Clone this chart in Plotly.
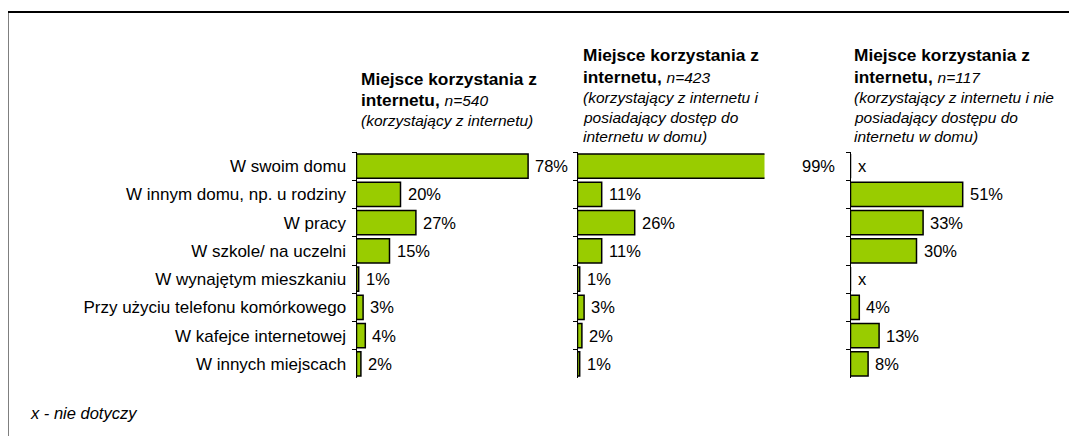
import plotly.graph_objects as go

OFF = 8  # browser body margin
W, H = 1077 - OFF, 436 - OFF

categories = [
    "W swoim domu",
    "W innym domu, np. u rodziny",
    "W pracy",
    "W szkole/ na uczelni",
    "W wynajętym mieszkaniu",
    "Przy użyciu telefonu komórkowego",
    "W kafejce internetowej",
    "W innych miejscach",
]
values_all = [78, 20, 27, 15, 1, 3, 4, 2]
values_home = [99, 11, 26, 11, 1, 3, 2, 1]
values_nohome = [None, 51, 33, 30, None, 4, 13, 8]

IT = "<i><span style='font-size:15.5px'>{}</span></i>"
titles = [
    ["<b>Miejsce korzystania z</b>",
     "<b>internetu,</b> " + IT.format("n=540"),
     IT.format("(korzystający z internetu)")],
    ["<b>Miejsce korzystania z</b>",
     "<b>internetu,</b> " + IT.format("n=423"),
     IT.format("(korzystający z internetu i"),
     IT.format("posiadający dostęp do"),
     IT.format("internetu w domu)")],
    ["<b>Miejsce korzystania z</b>",
     "<b>internetu,</b> " + IT.format("n=117"),
     IT.format("(korzystający z internetu i nie"),
     IT.format("posiadający dostępu do"),
     IT.format("internetu w domu)")],
]
footnote = "x - nie dotyczy"
na_label = "x"

FONT = "Liberation Sans, Arial, sans-serif"
GREEN = "#99CC00"

def px_x(p):
    return (p - OFF) / W

def px_y(p):
    return 1 - (p - OFF) / H

SCALE = 2.2  # pixels per percent
XMAX = 85
LABEL_MAX = 100
panel_left = [356.5, 577.5, 850.5]
title_x = [359, 580.5, 852]
title_y = [[79, 100, 121], [55, 77, 98, 118, 137], [55, 77, 98, 118, 137]]
y_dom = [px_y(378), px_y(152)]

series = [values_all, values_home, values_nohome]

fig = go.Figure()
annotations = []
for i, vals in enumerate(series):
    n = i + 1
    xa = "x" if n == 1 else f"x{n}"
    ya = "y" if n == 1 else f"y{n}"
    la = f"x{n + 3}"  # invisible label axis with the same scale but longer range
    fig.add_trace(go.Bar(
        x=[v if v is not None else 0 for v in vals],
        y=categories,
        orientation="h",
        marker=dict(color=GREEN, line=dict(color="black", width=1.5)),
        xaxis=xa, yaxis=ya,
        showlegend=False,
        hoverinfo="skip",
    ))
    for c, v in zip(categories, vals):
        annotations.append(dict(
            x=v if v is not None else 0, y=c, xref=la, yref=ya,
            text=f"{v}%" if v is not None else na_label,
            xanchor="left", yanchor="middle", xshift=5,
            showarrow=False,
            font=dict(family=FONT, size=16.5, color="black"),
        ))
    left = panel_left[i]
    fig.layout[f"xaxis{'' if n == 1 else n}"] = dict(
        domain=[px_x(left), px_x(left + XMAX * SCALE)], range=[0, XMAX],
        visible=False, anchor=ya, fixedrange=True,
    )
    fig.layout[f"xaxis{n + 3}"] = dict(
        domain=[px_x(left), px_x(left + LABEL_MAX * SCALE)],
        range=[0, LABEL_MAX],
        visible=False, anchor=ya, fixedrange=True,
    )
    fig.layout[f"yaxis{'' if n == 1 else n}"] = dict(
        domain=y_dom, anchor=xa, type="category",
        categoryorder="array", categoryarray=categories,
        autorange="reversed",
        showline=True, linecolor="black", linewidth=1,
        ticks="outside", tickson="boundaries", ticklen=4, tickcolor="black",
        showticklabels=(n == 1), showgrid=False, zeroline=False,
        tickfont=dict(family=FONT, size=17, color="black"),
        ticklabelstandoff=6,
    )
    for line, ty in zip(titles[i], title_y[i]):
        annotations.append(dict(
            x=px_x(title_x[i]), y=px_y(ty), xref="paper", yref="paper",
            text=line, xanchor="left", yanchor="middle", showarrow=False,
            font=dict(family=FONT, size=17.3, color="black"),
        ))

annotations.append(dict(
    x=px_x(28), y=px_y(413), xref="paper", yref="paper",
    text=f"<i>{footnote}</i>", xanchor="left", yanchor="middle", showarrow=False,
    font=dict(family=FONT, size=16.5, color="black"),
))

fig.update_layout(
    width=W, height=H,
    margin=dict(l=0, r=0, t=0, b=0),
    paper_bgcolor="white", plot_bgcolor="rgba(0,0,0,0)",
    bargap=0.15,
    annotations=annotations,
    shapes=[dict(type="rect", xref="paper", yref="paper",
                 x0=px_x(7.5), x1=1.05, y0=-0.05, y1=px_y(12),
                 line=dict(color="black", width=2), fillcolor="rgba(0,0,0,0)")],
)

fig.write_html("out.html")
